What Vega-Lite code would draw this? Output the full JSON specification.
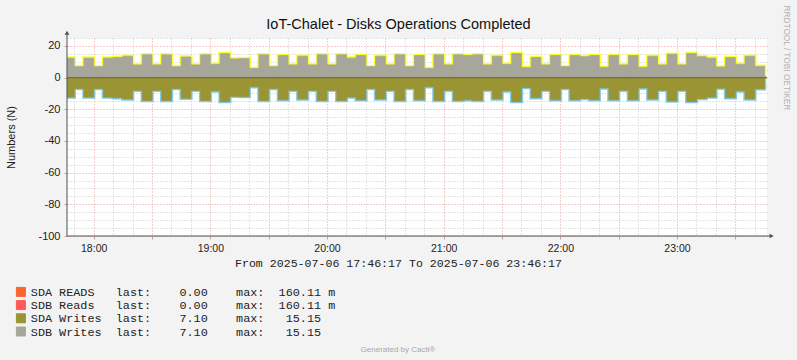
{
  "$schema": "https://vega.github.io/schema/vega-lite/v6.json",
  "width": 700,
  "height": 198,
  "autosize": {"type": "none"},
  "padding": {"left": 67, "top": 38, "right": 30, "bottom": 124},
  "background": "#F3F3F3",
  "config": {"view": {"stroke": null, "fill": "#FFFFFF"}},
  "title": {"text": "Generated by Cacti®", "orient": "bottom", "anchor": "middle", "frame": "group", "dx": -19, "offset": 7, "fontSize": 8, "font": "Liberation Sans", "fontWeight": "normal", "color": "#A8A8A8", "baseline": "top"},
  "data": {"values": [
    {"t":"2025-07-06T17:45:00Z","te":"2025-07-06T17:50:00Z","sdaR":0,"sdbR":0,"sdaW":-12.3,"sdbW":12.3},
    {"t":"2025-07-06T17:50:00Z","te":"2025-07-06T17:55:00Z","sdaR":0,"sdbR":0,"sdaW":-6.9,"sdbW":6.9},
    {"t":"2025-07-06T17:55:00Z","te":"2025-07-06T18:00:00Z","sdaR":0,"sdbR":0,"sdaW":-12.3,"sdbW":12.3},
    {"t":"2025-07-06T18:00:00Z","te":"2025-07-06T18:05:00Z","sdaR":0,"sdbR":0,"sdaW":-6.9,"sdbW":6.9},
    {"t":"2025-07-06T18:05:00Z","te":"2025-07-06T18:10:00Z","sdaR":0,"sdbR":0,"sdaW":-12.3,"sdbW":12.3},
    {"t":"2025-07-06T18:10:00Z","te":"2025-07-06T18:15:00Z","sdaR":0,"sdbR":0,"sdaW":-12.7,"sdbW":12.7},
    {"t":"2025-07-06T18:15:00Z","te":"2025-07-06T18:20:00Z","sdaR":0,"sdbR":0,"sdaW":-13.5,"sdbW":13.5},
    {"t":"2025-07-06T18:20:00Z","te":"2025-07-06T18:25:00Z","sdaR":0,"sdbR":0,"sdaW":-8.0,"sdbW":8.0},
    {"t":"2025-07-06T18:25:00Z","te":"2025-07-06T18:30:00Z","sdaR":0,"sdbR":0,"sdaW":-14.4,"sdbW":14.4},
    {"t":"2025-07-06T18:30:00Z","te":"2025-07-06T18:35:00Z","sdaR":0,"sdbR":0,"sdaW":-8.0,"sdbW":8.0},
    {"t":"2025-07-06T18:35:00Z","te":"2025-07-06T18:40:00Z","sdaR":0,"sdbR":0,"sdaW":-14.4,"sdbW":14.4},
    {"t":"2025-07-06T18:40:00Z","te":"2025-07-06T18:45:00Z","sdaR":0,"sdbR":0,"sdaW":-6.9,"sdbW":6.9},
    {"t":"2025-07-06T18:45:00Z","te":"2025-07-06T18:50:00Z","sdaR":0,"sdbR":0,"sdaW":-13.0,"sdbW":13.0},
    {"t":"2025-07-06T18:50:00Z","te":"2025-07-06T18:55:00Z","sdaR":0,"sdbR":0,"sdaW":-8.0,"sdbW":8.0},
    {"t":"2025-07-06T18:55:00Z","te":"2025-07-06T19:00:00Z","sdaR":0,"sdbR":0,"sdaW":-14.4,"sdbW":14.4},
    {"t":"2025-07-06T19:00:00Z","te":"2025-07-06T19:05:00Z","sdaR":0,"sdbR":0,"sdaW":-8.4,"sdbW":8.4},
    {"t":"2025-07-06T19:05:00Z","te":"2025-07-06T19:10:00Z","sdaR":0,"sdbR":0,"sdaW":-15.15,"sdbW":15.15},
    {"t":"2025-07-06T19:10:00Z","te":"2025-07-06T19:15:00Z","sdaR":0,"sdbR":0,"sdaW":-11.8,"sdbW":11.8},
    {"t":"2025-07-06T19:15:00Z","te":"2025-07-06T19:20:00Z","sdaR":0,"sdbR":0,"sdaW":-12.0,"sdbW":12.0},
    {"t":"2025-07-06T19:20:00Z","te":"2025-07-06T19:25:00Z","sdaR":0,"sdbR":0,"sdaW":-5.8,"sdbW":5.8},
    {"t":"2025-07-06T19:25:00Z","te":"2025-07-06T19:30:00Z","sdaR":0,"sdbR":0,"sdaW":-14.4,"sdbW":14.4},
    {"t":"2025-07-06T19:30:00Z","te":"2025-07-06T19:35:00Z","sdaR":0,"sdbR":0,"sdaW":-6.9,"sdbW":6.9},
    {"t":"2025-07-06T19:35:00Z","te":"2025-07-06T19:40:00Z","sdaR":0,"sdbR":0,"sdaW":-14.0,"sdbW":14.0},
    {"t":"2025-07-06T19:40:00Z","te":"2025-07-06T19:45:00Z","sdaR":0,"sdbR":0,"sdaW":-8.0,"sdbW":8.0},
    {"t":"2025-07-06T19:45:00Z","te":"2025-07-06T19:50:00Z","sdaR":0,"sdbR":0,"sdaW":-13.5,"sdbW":13.5},
    {"t":"2025-07-06T19:50:00Z","te":"2025-07-06T19:55:00Z","sdaR":0,"sdbR":0,"sdaW":-8.0,"sdbW":8.0},
    {"t":"2025-07-06T19:55:00Z","te":"2025-07-06T20:00:00Z","sdaR":0,"sdbR":0,"sdaW":-14.4,"sdbW":14.4},
    {"t":"2025-07-06T20:00:00Z","te":"2025-07-06T20:05:00Z","sdaR":0,"sdbR":0,"sdaW":-8.0,"sdbW":8.0},
    {"t":"2025-07-06T20:05:00Z","te":"2025-07-06T20:10:00Z","sdaR":0,"sdbR":0,"sdaW":-14.4,"sdbW":14.4},
    {"t":"2025-07-06T20:10:00Z","te":"2025-07-06T20:15:00Z","sdaR":0,"sdbR":0,"sdaW":-12.3,"sdbW":12.3},
    {"t":"2025-07-06T20:15:00Z","te":"2025-07-06T20:20:00Z","sdaR":0,"sdbR":0,"sdaW":-14.0,"sdbW":14.0},
    {"t":"2025-07-06T20:20:00Z","te":"2025-07-06T20:25:00Z","sdaR":0,"sdbR":0,"sdaW":-6.9,"sdbW":6.9},
    {"t":"2025-07-06T20:25:00Z","te":"2025-07-06T20:30:00Z","sdaR":0,"sdbR":0,"sdaW":-13.5,"sdbW":13.5},
    {"t":"2025-07-06T20:30:00Z","te":"2025-07-06T20:35:00Z","sdaR":0,"sdbR":0,"sdaW":-8.0,"sdbW":8.0},
    {"t":"2025-07-06T20:35:00Z","te":"2025-07-06T20:40:00Z","sdaR":0,"sdbR":0,"sdaW":-14.4,"sdbW":14.4},
    {"t":"2025-07-06T20:40:00Z","te":"2025-07-06T20:45:00Z","sdaR":0,"sdbR":0,"sdaW":-6.9,"sdbW":6.9},
    {"t":"2025-07-06T20:45:00Z","te":"2025-07-06T20:50:00Z","sdaR":0,"sdbR":0,"sdaW":-14.0,"sdbW":14.0},
    {"t":"2025-07-06T20:50:00Z","te":"2025-07-06T20:55:00Z","sdaR":0,"sdbR":0,"sdaW":-5.8,"sdbW":5.8},
    {"t":"2025-07-06T20:55:00Z","te":"2025-07-06T21:00:00Z","sdaR":0,"sdbR":0,"sdaW":-14.4,"sdbW":14.4},
    {"t":"2025-07-06T21:00:00Z","te":"2025-07-06T21:05:00Z","sdaR":0,"sdbR":0,"sdaW":-8.0,"sdbW":8.0},
    {"t":"2025-07-06T21:05:00Z","te":"2025-07-06T21:10:00Z","sdaR":0,"sdbR":0,"sdaW":-14.4,"sdbW":14.4},
    {"t":"2025-07-06T21:10:00Z","te":"2025-07-06T21:15:00Z","sdaR":0,"sdbR":0,"sdaW":-14.0,"sdbW":14.0},
    {"t":"2025-07-06T21:15:00Z","te":"2025-07-06T21:20:00Z","sdaR":0,"sdbR":0,"sdaW":-14.4,"sdbW":14.4},
    {"t":"2025-07-06T21:20:00Z","te":"2025-07-06T21:25:00Z","sdaR":0,"sdbR":0,"sdaW":-8.0,"sdbW":8.0},
    {"t":"2025-07-06T21:25:00Z","te":"2025-07-06T21:30:00Z","sdaR":0,"sdbR":0,"sdaW":-13.5,"sdbW":13.5},
    {"t":"2025-07-06T21:30:00Z","te":"2025-07-06T21:35:00Z","sdaR":0,"sdbR":0,"sdaW":-8.4,"sdbW":8.4},
    {"t":"2025-07-06T21:35:00Z","te":"2025-07-06T21:40:00Z","sdaR":0,"sdbR":0,"sdaW":-15.15,"sdbW":15.15},
    {"t":"2025-07-06T21:40:00Z","te":"2025-07-06T21:45:00Z","sdaR":0,"sdbR":0,"sdaW":-6.3,"sdbW":6.3},
    {"t":"2025-07-06T21:45:00Z","te":"2025-07-06T21:50:00Z","sdaR":0,"sdbR":0,"sdaW":-12.7,"sdbW":12.7},
    {"t":"2025-07-06T21:50:00Z","te":"2025-07-06T21:55:00Z","sdaR":0,"sdbR":0,"sdaW":-8.0,"sdbW":8.0},
    {"t":"2025-07-06T21:55:00Z","te":"2025-07-06T22:00:00Z","sdaR":0,"sdbR":0,"sdaW":-14.0,"sdbW":14.0},
    {"t":"2025-07-06T22:00:00Z","te":"2025-07-06T22:05:00Z","sdaR":0,"sdbR":0,"sdaW":-6.9,"sdbW":6.9},
    {"t":"2025-07-06T22:05:00Z","te":"2025-07-06T22:10:00Z","sdaR":0,"sdbR":0,"sdaW":-14.0,"sdbW":14.0},
    {"t":"2025-07-06T22:10:00Z","te":"2025-07-06T22:15:00Z","sdaR":0,"sdbR":0,"sdaW":-13.2,"sdbW":13.2},
    {"t":"2025-07-06T22:15:00Z","te":"2025-07-06T22:20:00Z","sdaR":0,"sdbR":0,"sdaW":-14.0,"sdbW":14.0},
    {"t":"2025-07-06T22:20:00Z","te":"2025-07-06T22:25:00Z","sdaR":0,"sdbR":0,"sdaW":-6.5,"sdbW":6.5},
    {"t":"2025-07-06T22:25:00Z","te":"2025-07-06T22:30:00Z","sdaR":0,"sdbR":0,"sdaW":-14.0,"sdbW":14.0},
    {"t":"2025-07-06T22:30:00Z","te":"2025-07-06T22:35:00Z","sdaR":0,"sdbR":0,"sdaW":-8.0,"sdbW":8.0},
    {"t":"2025-07-06T22:35:00Z","te":"2025-07-06T22:40:00Z","sdaR":0,"sdbR":0,"sdaW":-14.0,"sdbW":14.0},
    {"t":"2025-07-06T22:40:00Z","te":"2025-07-06T22:45:00Z","sdaR":0,"sdbR":0,"sdaW":-6.5,"sdbW":6.5},
    {"t":"2025-07-06T22:45:00Z","te":"2025-07-06T22:50:00Z","sdaR":0,"sdbR":0,"sdaW":-13.5,"sdbW":13.5},
    {"t":"2025-07-06T22:50:00Z","te":"2025-07-06T22:55:00Z","sdaR":0,"sdbR":0,"sdaW":-8.0,"sdbW":8.0},
    {"t":"2025-07-06T22:55:00Z","te":"2025-07-06T23:00:00Z","sdaR":0,"sdbR":0,"sdaW":-14.8,"sdbW":14.8},
    {"t":"2025-07-06T23:00:00Z","te":"2025-07-06T23:05:00Z","sdaR":0,"sdbR":0,"sdaW":-8.0,"sdbW":8.0},
    {"t":"2025-07-06T23:05:00Z","te":"2025-07-06T23:10:00Z","sdaR":0,"sdbR":0,"sdaW":-15.15,"sdbW":15.15},
    {"t":"2025-07-06T23:10:00Z","te":"2025-07-06T23:15:00Z","sdaR":0,"sdbR":0,"sdaW":-13.2,"sdbW":13.2},
    {"t":"2025-07-06T23:15:00Z","te":"2025-07-06T23:20:00Z","sdaR":0,"sdbR":0,"sdaW":-12.3,"sdbW":12.3},
    {"t":"2025-07-06T23:20:00Z","te":"2025-07-06T23:25:00Z","sdaR":0,"sdbR":0,"sdaW":-6.7,"sdbW":6.7},
    {"t":"2025-07-06T23:25:00Z","te":"2025-07-06T23:30:00Z","sdaR":0,"sdbR":0,"sdaW":-12.7,"sdbW":12.7},
    {"t":"2025-07-06T23:30:00Z","te":"2025-07-06T23:35:00Z","sdaR":0,"sdbR":0,"sdaW":-8.4,"sdbW":8.4},
    {"t":"2025-07-06T23:35:00Z","te":"2025-07-06T23:40:00Z","sdaR":0,"sdbR":0,"sdaW":-13.5,"sdbW":13.5},
    {"t":"2025-07-06T23:40:00Z","te":"2025-07-06T23:45:00Z","sdaR":0,"sdbR":0,"sdaW":-7.1,"sdbW":7.1}
  ]},
  "resolve": {"axis": {"x": "independent", "y": "independent"}},
  "layer": [
    {
      "mark": {"type": "rect", "filled": false, "stroke": "#FFFF30", "strokeWidth": 3.5, "clip": true},
      "encoding": {
        "x": {"field": "t", "type": "temporal",
          "scale": {"type": "utc", "nice": false, "domain": [{"year": 2025, "month": 7, "date": 6, "hours": 17, "minutes": 46, "seconds": 17, "utc": true}, {"year": 2025, "month": 7, "date": 6, "hours": 23, "minutes": 46, "seconds": 17, "utc": true}]},
          "axis": {"orient": "top", "title": "IoT-Chalet - Disks Operations Completed", "titleFont": "Liberation Sans", "titleFontSize": 14.5, "titleFontWeight": "normal", "titleColor": "#111111", "titleX": 331, "titleY": -10, "titleAlign": "center", "titleBaseline": "alphabetic", "labels": false, "ticks": false, "domain": false, "grid": false}},
        "x2": {"field": "te"},
        "y": {"field": "sdbW", "type": "quantitative",
          "scale": {"domain": [-100, 25], "nice": false, "zero": false},
          "axis": {"orient": "right", "title": "RRDTOOL / TOBI OETIKER", "titleFont": "Liberation Sans", "titleFontSize": 8.3, "titleFontWeight": "normal", "titleColor": "#B0B0B0", "titleAngle": 90, "titleX": 18, "titleY": -33, "titleAlign": "left", "titleBaseline": "middle", "labels": false, "ticks": false, "domain": false, "grid": false}},
        "y2": {"datum": 0}
      }
    },
    {
      "mark": {"type": "rect", "filled": false, "stroke": "#80CCF0", "strokeWidth": 3.5, "clip": true},
      "encoding": {
        "x": {"field": "t", "type": "temporal", "axis": null},
        "x2": {"field": "te"},
        "y": {"field": "sdaW", "type": "quantitative", "axis": null},
        "y2": {"datum": 0}
      }
    },
    {
      "transform": [{"fold": ["sdaR", "sdbR", "sdaW", "sdbW"], "as": ["series", "val"]}],
      "mark": {"type": "rect", "strokeWidth": 0.8, "clip": true},
      "encoding": {
        "x": {"field": "t", "type": "temporal",
          "axis": {"orient": "bottom", "title": "From 2025-07-06 17:46:17 To 2025-07-06 23:46:17", "titleFont": "Liberation Mono", "titleFontSize": 11.6, "titleFontWeight": "normal", "titleColor": "#222222", "titleX": 331, "titleY": 27, "titleAlign": "center", "titleBaseline": "middle",
            "values": [
              {"year": 2025, "month": 7, "date": 6, "hours": 17, "minutes": 50, "utc": true},
              {"year": 2025, "month": 7, "date": 6, "hours": 18, "minutes": 0, "utc": true},
              {"year": 2025, "month": 7, "date": 6, "hours": 18, "minutes": 10, "utc": true},
              {"year": 2025, "month": 7, "date": 6, "hours": 18, "minutes": 20, "utc": true},
              {"year": 2025, "month": 7, "date": 6, "hours": 18, "minutes": 30, "utc": true},
              {"year": 2025, "month": 7, "date": 6, "hours": 18, "minutes": 40, "utc": true},
              {"year": 2025, "month": 7, "date": 6, "hours": 18, "minutes": 50, "utc": true},
              {"year": 2025, "month": 7, "date": 6, "hours": 19, "minutes": 0, "utc": true},
              {"year": 2025, "month": 7, "date": 6, "hours": 19, "minutes": 10, "utc": true},
              {"year": 2025, "month": 7, "date": 6, "hours": 19, "minutes": 20, "utc": true},
              {"year": 2025, "month": 7, "date": 6, "hours": 19, "minutes": 30, "utc": true},
              {"year": 2025, "month": 7, "date": 6, "hours": 19, "minutes": 40, "utc": true},
              {"year": 2025, "month": 7, "date": 6, "hours": 19, "minutes": 50, "utc": true},
              {"year": 2025, "month": 7, "date": 6, "hours": 20, "minutes": 0, "utc": true},
              {"year": 2025, "month": 7, "date": 6, "hours": 20, "minutes": 10, "utc": true},
              {"year": 2025, "month": 7, "date": 6, "hours": 20, "minutes": 20, "utc": true},
              {"year": 2025, "month": 7, "date": 6, "hours": 20, "minutes": 30, "utc": true},
              {"year": 2025, "month": 7, "date": 6, "hours": 20, "minutes": 40, "utc": true},
              {"year": 2025, "month": 7, "date": 6, "hours": 20, "minutes": 50, "utc": true},
              {"year": 2025, "month": 7, "date": 6, "hours": 21, "minutes": 0, "utc": true},
              {"year": 2025, "month": 7, "date": 6, "hours": 21, "minutes": 10, "utc": true},
              {"year": 2025, "month": 7, "date": 6, "hours": 21, "minutes": 20, "utc": true},
              {"year": 2025, "month": 7, "date": 6, "hours": 21, "minutes": 30, "utc": true},
              {"year": 2025, "month": 7, "date": 6, "hours": 21, "minutes": 40, "utc": true},
              {"year": 2025, "month": 7, "date": 6, "hours": 21, "minutes": 50, "utc": true},
              {"year": 2025, "month": 7, "date": 6, "hours": 22, "minutes": 0, "utc": true},
              {"year": 2025, "month": 7, "date": 6, "hours": 22, "minutes": 10, "utc": true},
              {"year": 2025, "month": 7, "date": 6, "hours": 22, "minutes": 20, "utc": true},
              {"year": 2025, "month": 7, "date": 6, "hours": 22, "minutes": 30, "utc": true},
              {"year": 2025, "month": 7, "date": 6, "hours": 22, "minutes": 40, "utc": true},
              {"year": 2025, "month": 7, "date": 6, "hours": 22, "minutes": 50, "utc": true},
              {"year": 2025, "month": 7, "date": 6, "hours": 23, "minutes": 0, "utc": true},
              {"year": 2025, "month": 7, "date": 6, "hours": 23, "minutes": 10, "utc": true},
              {"year": 2025, "month": 7, "date": 6, "hours": 23, "minutes": 20, "utc": true},
              {"year": 2025, "month": 7, "date": 6, "hours": 23, "minutes": 30, "utc": true},
              {"year": 2025, "month": 7, "date": 6, "hours": 23, "minutes": 40, "utc": true}
            ],
            "labelExpr": "utcminutes(datum.value) === 0 ? utcFormat(datum.value, '%H:%M') : ''",
            "labelFont": "Liberation Sans", "labelFontSize": 10.5, "labelColor": "#222222", "labelPadding": 4, "labelFlush": false, "labelOverlap": false,
            "grid": true,
            "gridColor": {"condition": {"test": "utcminutes(datum.value) % 30 === 0", "value": "#EF9C9C"}, "value": "#C8C8C8"},
            "gridDash": [1, 2], "gridWidth": 1, "gridOpacity": 1,
            "tickColor": {"condition": {"test": "utcminutes(datum.value) % 30 === 0", "value": "#D89A9A"}, "value": "transparent"},
            "tickSize": 3, "domain": false}},
        "x2": {"field": "te"},
        "y": {"field": "val", "type": "quantitative",
          "axis": {"orient": "left", "title": "Numbers (N)", "titleFont": "Liberation Sans", "titleFontSize": 11, "titleFontWeight": "normal", "titleColor": "#222222", "titleAngle": -90, "titleX": -56, "titleY": 99, "titleAlign": "center", "titleBaseline": "middle",
            "values": [-100, -95, -90, -85, -80, -75, -70, -65, -60, -55, -50, -45, -40, -35, -30, -25, -20, -15, -10, -5, 0, 5, 10, 15, 20, 25],
            "labelExpr": "datum.value % 20 === 0 ? '' + datum.value : ''",
            "labelFont": "Liberation Sans", "labelFontSize": 11, "labelColor": "#222222", "labelPadding": 4, "labelOverlap": false, "labelFlush": false,
            "grid": true,
            "gridColor": {"condition": {"test": "datum.value % 20 === 0", "value": "#EF9C9C"}, "value": "#C8C8C8"},
            "gridDash": [1, 2], "gridWidth": 1, "gridOpacity": 1,
            "tickColor": {"condition": {"test": "datum.value % 20 === 0", "value": "#D89A9A"}, "value": "transparent"},
            "tickSize": 3, "domain": false}},
        "y2": {"datum": 0},
        "color": {"field": "series", "type": "nominal",
          "scale": {"domain": ["sdaR", "sdbR", "sdaW", "sdbW"], "range": ["#F8652E", "#FF5A58", "#9A9434", "#A6A79A"]},
          "legend": {"orient": "none", "legendX": -52, "legendY": 248, "title": null, "direction": "vertical", "symbolType": "square", "symbolSize": 81, "symbolStrokeColor": "#2F3F38", "symbolStrokeWidth": 1, "symbolOpacity": 1, "labelFont": "Liberation Mono", "labelFontSize": 11.8, "labelColor": "#222222", "labelOffset": 4, "labelLimit": 0, "rowPadding": -0.8, "padding": 0,
            "encode": {"symbols": {"update": {"stroke": {"value": "#2F3F38"}, "strokeWidth": {"value": 1}}}},
            "labelExpr": "datum.label === 'sdaR' ? 'SDA\u00a0READS\u00a0\u00a0\u00a0last:\u00a0\u00a0\u00a0\u00a00.00\u00a0\u00a0\u00a0\u00a0max:\u00a0\u00a0160.11\u00a0m' : datum.label === 'sdbR' ? 'SDB\u00a0Reads\u00a0\u00a0\u00a0last:\u00a0\u00a0\u00a0\u00a00.00\u00a0\u00a0\u00a0\u00a0max:\u00a0\u00a0160.11\u00a0m' : datum.label === 'sdaW' ? 'SDA\u00a0Writes\u00a0\u00a0last:\u00a0\u00a0\u00a0\u00a07.10\u00a0\u00a0\u00a0\u00a0max:\u00a0\u00a0\u00a015.15' : 'SDB\u00a0Writes\u00a0\u00a0last:\u00a0\u00a0\u00a0\u00a07.10\u00a0\u00a0\u00a0\u00a0max:\u00a0\u00a0\u00a015.15'"}},
        "stroke": {"field": "series", "type": "nominal",
          "scale": {"domain": ["sdaR", "sdbR", "sdaW", "sdbW"], "range": ["#F8652E", "#FF5A58", "#9A9434", "#A6A79A"]},
          "legend": null}
      }
    },
    {
      "data": {"values": [{}]},
      "mark": {"type": "rule", "color": "#736F2A", "strokeWidth": 1.3},
      "encoding": {"y": {"datum": 0, "type": "quantitative", "axis": null}}
    },
    {
      "data": {"values": [{"a": "2025-07-06T17:46:17Z", "b": "2025-07-06T23:48:40Z", "lo": -100, "hi": 28.3}]},
      "mark": {"type": "rule", "color": "#44574F", "strokeWidth": 1, "clip": false},
      "encoding": {
        "x": {"field": "a", "type": "temporal", "axis": null},
        "x2": {"field": "b"},
        "y": {"field": "lo", "type": "quantitative", "axis": null}
      }
    },
    {
      "data": {"values": [{"a": "2025-07-06T17:46:17Z", "b": "2025-07-06T23:48:40Z", "lo": -100, "hi": 28.3}]},
      "mark": {"type": "rule", "color": "#44574F", "strokeWidth": 1, "clip": false},
      "encoding": {
        "x": {"field": "a", "type": "temporal", "axis": null},
        "y": {"field": "lo", "type": "quantitative", "axis": null},
        "y2": {"field": "hi"}
      }
    },
    {
      "data": {"values": [{"a": "2025-07-06T17:46:17Z", "b": "2025-07-06T23:48:40Z", "lo": -100, "hi": 28.3}]},
      "mark": {"type": "point", "shape": "triangle-up", "filled": true, "size": 22, "color": "#44574F", "opacity": 1, "clip": false},
      "encoding": {
        "x": {"field": "a", "type": "temporal", "axis": null},
        "y": {"field": "hi", "type": "quantitative", "axis": null}
      }
    },
    {
      "data": {"values": [{"a": "2025-07-06T17:46:17Z", "b": "2025-07-06T23:48:40Z", "lo": -100, "hi": 28.3}]},
      "mark": {"type": "point", "shape": "triangle-right", "filled": true, "size": 22, "color": "#44574F", "opacity": 1, "clip": false},
      "encoding": {
        "x": {"field": "b", "type": "temporal", "axis": null},
        "y": {"field": "lo", "type": "quantitative", "axis": null}
      }
    }
  ]
}
